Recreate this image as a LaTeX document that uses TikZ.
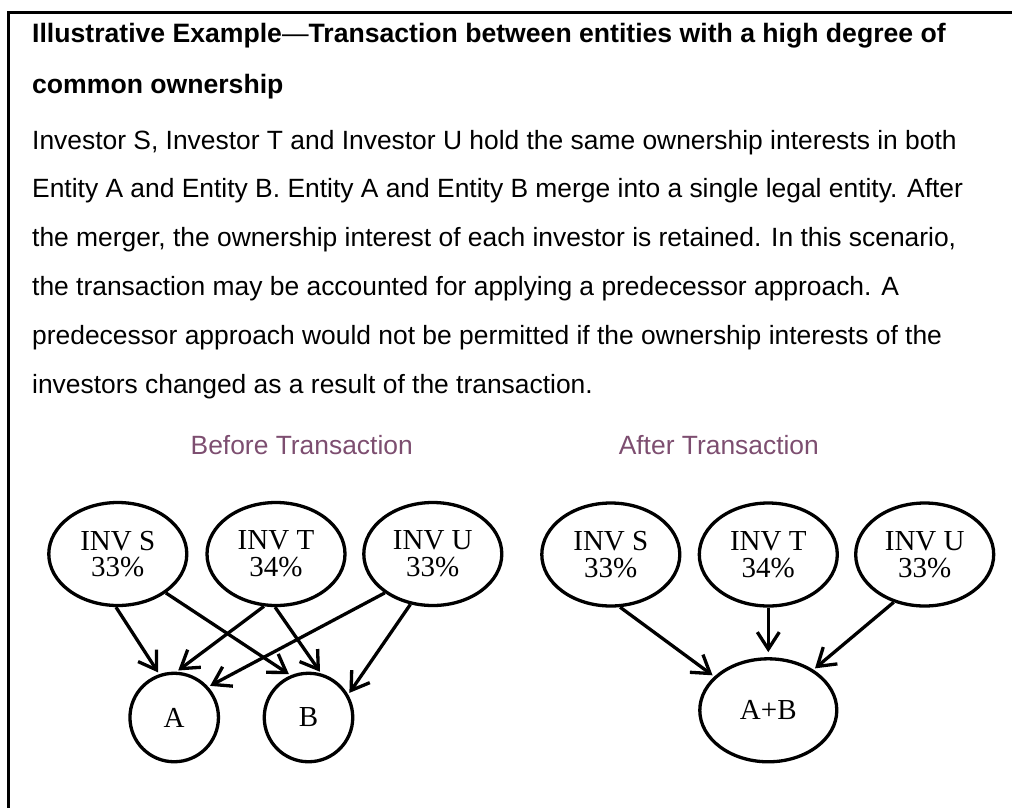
\documentclass[tikz,border=0pt]{standalone}
\usepackage{fontspec}
\setmainfont{Liberation Sans}
\newfontfamily\timesf{Liberation Serif}
\usetikzlibrary{arrows.meta,shapes.geometric}
\definecolor{mauve}{RGB}{125,78,112}
\begin{document}
\begin{tikzpicture}[x=1pt,y=-1pt,
  txt/.style={anchor=base west,inner sep=0pt,font=\fontsize{26.4}{30}\selectfont},
  ttl/.style={anchor=base west,inner sep=0pt,font=\fontsize{26.6}{30}\selectfont},
  lbl/.style={anchor=base,inner sep=0pt,text=mauve,font=\fontsize{26.4}{30}\selectfont},
  inv/.style={draw,line width=3.3pt,ellipse,minimum width=138pt,minimum height=103pt,inner sep=0pt,align=center,font=\timesf\fontsize{29}{26.7}\selectfont},
  ent/.style={draw,line width=3.3pt,circle,minimum size=88.5pt,inner sep=0pt,font=\timesf\fontsize{29}{30}\selectfont},
  merged/.style={draw,line width=3.3pt,ellipse,minimum width=137pt,minimum height=103pt,inner sep=0pt,font=\timesf\fontsize{29}{30}\selectfont},
  arr/.style={line width=3.3pt,-{Straight Barb[length=17pt,width=22pt]},shorten >=2pt}
]
\useasboundingbox (0,0) rectangle (1012,807);
\draw[line width=2.5pt] (1013,12.5) -- (8.5,12.5) -- (8.5,808);

\node[ttl] (t1) at (32,42) {\textbf{Illustrative Example}—\textbf{Transaction between entities with a high degree of}};
\node[ttl] (t2) at (32,93) {\textbf{common ownership}};

\node[txt] (b1) at (32,149) {Investor S, Investor T and Investor U hold the same ownership interests in both};
\node[txt] (b2) at (32,197.8) {Entity A and Entity B. Entity A and Entity B merge into a single legal entity. After};
\node[txt] (b3) at (32,246.6) {the merger, the ownership interest of each investor is retained. In this scenario,};
\node[txt] (b4) at (32,295.4) {the transaction may be accounted for applying a predecessor approach. A};
\node[txt] (b5) at (32,344.2) {predecessor approach would not be permitted if the ownership interests of the};
\node[txt] (b6) at (32,393) {investors changed as a result of the transaction.};

\node[lbl] (before) at (301.7,454) {Before Transaction};
\node[lbl] (after) at (718.8,454) {After Transaction};

% before
\node[inv] (S) at (117.8,554) {INV S\\33\%};
\node[inv] (T) at (276,554) {INV T\\34\%};
\node[inv] (U) at (432.8,554) {INV U\\33\%};
\node[ent] (A) at (174.2,717.5) {A};
\node[ent] (B) at (308.5,717.5) {B};
\draw[arr] (S.-92) -- (A.109);
\draw[arr] (S.-39) -- (B.113);
\draw[arr] (T.-103) -- (A.87);
\draw[arr] (T.-91) -- (B.74);
\draw[arr] (U.-141) -- (A.42);
\draw[arr] (U.-114) -- (B.30);

% after
\node[inv] (S2) at (610.8,554.5) {INV S\\33\%};
\node[inv] (T2) at (768.3,554.5) {INV T\\34\%};
\node[inv] (U2) at (924.7,554.5) {INV U\\33\%};
\node[merged] (AB) at (768.3,710.3) {A+B};
\draw[arr] (S2.-80) -- (AB.148);
\draw[arr,shorten >=5pt] (T2.-90) -- (AB.90);
\draw[arr] (U2.-123) -- (AB.42);
\end{tikzpicture}
\end{document}
